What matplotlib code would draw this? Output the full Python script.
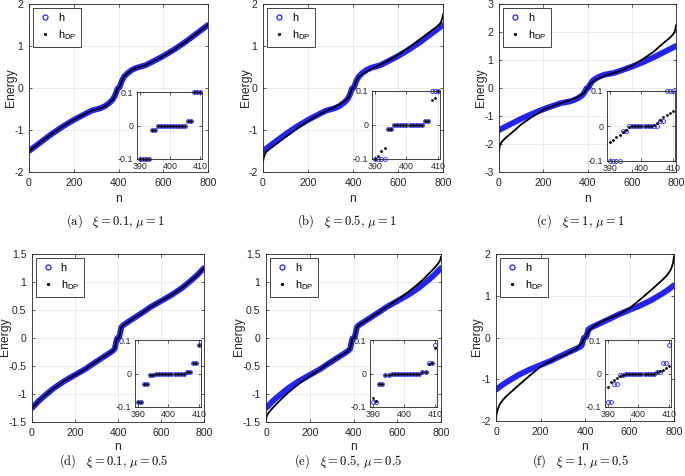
import matplotlib
matplotlib.use('Agg')
import matplotlib.pyplot as plt
from matplotlib.lines import Line2D

W, H = 685, 476
plt.rcParams['font.family'] = ['Liberation Sans', 'DejaVu Sans']
plt.rcParams['mathtext.fontset'] = 'custom'
plt.rcParams['mathtext.rm'] = 'Liberation Sans'
plt.rcParams['mathtext.it'] = 'Liberation Sans:italic'

# ---------------- data ----------------
n = [0, 3, 8, 15, 30, 50, 75, 100, 150, 200, 250, 280, 300, 320, 340, 360, 375, 385, 390, 395, 400,
     405, 410, 415, 425, 440, 460, 480, 500, 520, 550, 600, 650, 700, 725, 750, 770, 785, 792, 797, 800]

h_mu1 = [-1.50, -1.49, -1.47, -1.44, -1.38, -1.30, -1.20, -1.10, -0.92, -0.76, -0.62, -0.54, -0.51, -0.48, -0.43, -0.35, -0.27, -0.17, -0.10, -0.02, 0.00,
         0.02, 0.10, 0.17, 0.27, 0.35, 0.43, 0.48, 0.51, 0.54, 0.62, 0.76, 0.92, 1.10, 1.20, 1.30, 1.38, 1.44, 1.47, 1.49, 1.50]
h_mu05 = [-1.25, -1.24, -1.22, -1.19, -1.13, -1.06, -0.98, -0.90, -0.77, -0.66, -0.55, -0.47, -0.42, -0.37, -0.32, -0.27, -0.23, -0.19, -0.09, -0.01, 0.00,
          0.01, 0.09, 0.19, 0.23, 0.27, 0.32, 0.37, 0.42, 0.47, 0.55, 0.66, 0.77, 0.90, 0.98, 1.06, 1.13, 1.19, 1.22, 1.24, 1.25]

dp_a = [-1.50, -1.49, -1.47, -1.44, -1.38, -1.30, -1.20, -1.10, -0.92, -0.76, -0.62, -0.54, -0.51, -0.48, -0.43, -0.35, -0.27, -0.17, -0.10, -0.02, 0.00,
        0.02, 0.10, 0.17, 0.27, 0.35, 0.43, 0.48, 0.51, 0.54, 0.62, 0.76, 0.92, 1.10, 1.20, 1.30, 1.38, 1.44, 1.47, 1.49, 1.50]
dp_b = [-1.76, -1.66, -1.58, -1.52, -1.45, -1.37, -1.27, -1.17, -0.97, -0.79, -0.63, -0.55, -0.50, -0.45, -0.39, -0.32, -0.25, -0.18, -0.10, -0.02, 0.00,
        0.02, 0.10, 0.18, 0.25, 0.32, 0.39, 0.45, 0.50, 0.55, 0.63, 0.79, 0.97, 1.17, 1.27, 1.37, 1.45, 1.52, 1.58, 1.66, 1.76]
dp_c = [-2.25, -2.08, -1.98, -1.90, -1.78, -1.65, -1.48, -1.30, -1.03, -0.79, -0.62, -0.54, -0.49, -0.44, -0.38, -0.30, -0.23, -0.17, -0.12, -0.05, 0.00,
        0.05, 0.12, 0.17, 0.23, 0.30, 0.38, 0.44, 0.49, 0.54, 0.62, 0.79, 1.03, 1.30, 1.48, 1.65, 1.78, 1.90, 1.98, 2.08, 2.25]
dp_d = [-1.25, -1.24, -1.22, -1.19, -1.13, -1.06, -0.98, -0.90, -0.77, -0.66, -0.55, -0.47, -0.42, -0.37, -0.32, -0.27, -0.23, -0.19, -0.09, -0.01, 0.00,
        0.01, 0.09, 0.19, 0.23, 0.27, 0.32, 0.37, 0.42, 0.47, 0.55, 0.66, 0.77, 0.90, 0.98, 1.06, 1.13, 1.19, 1.22, 1.24, 1.25]
dp_e = [-1.45, -1.40, -1.36, -1.32, -1.25, -1.17, -1.07, -0.98, -0.82, -0.68, -0.55, -0.47, -0.42, -0.37, -0.32, -0.27, -0.23, -0.18, -0.10, -0.01, 0.00,
        0.01, 0.10, 0.18, 0.23, 0.27, 0.32, 0.37, 0.42, 0.47, 0.55, 0.68, 0.82, 0.98, 1.07, 1.17, 1.25, 1.32, 1.36, 1.40, 1.45]
dp_f = [-1.95, -1.82, -1.72, -1.62, -1.50, -1.39, -1.27, -1.15, -0.92, -0.70, -0.55, -0.48, -0.44, -0.39, -0.33, -0.27, -0.20, -0.14, -0.09, -0.04, 0.00,
        0.04, 0.09, 0.14, 0.20, 0.27, 0.33, 0.39, 0.44, 0.48, 0.55, 0.70, 0.92, 1.15, 1.27, 1.39, 1.50, 1.62, 1.72, 1.82, 1.95]

# inset data (n = 390 ... 410)
n_in = [390, 391, 392, 393, 394, 395, 396, 397, 398, 399, 400, 401, 402, 403, 404, 405, 406, 407, 408, 409, 410]
ih_mu1 = [-0.1, -0.1, -0.1, -0.1, -0.013, -0.013, 0, 0, 0, 0, 0, 0, 0, 0, 0, 0, 0.013, 0.013, 0.1, 0.1, 0.1]
ih_mu05 = [-0.085, -0.085, -0.031, -0.031, -0.004, -0.003, 0, 0, 0, 0, 0, 0, 0, 0, 0, 0, 0.003, 0.004, 0.03, 0.03, 0.085]
idp_a = [-0.1, -0.1, -0.1, -0.1, -0.013, -0.013, 0, 0, 0, 0, 0, 0, 0, 0, 0, 0, 0.013, 0.013, 0.1, 0.1, 0.1]
idp_b = [-0.1, -0.09, -0.077, -0.069, -0.013, -0.012, 0, 0, 0, 0, 0, 0, 0, 0, 0, 0, 0.012, 0.013, 0.073, 0.08, 0.1]
idp_c = [-0.047, -0.04, -0.032, -0.025, -0.018, -0.01, -0.004, 0, 0, 0, 0, 0, 0, 0, 0.004, 0.01, 0.018, 0.025, 0.032, 0.038, 0.044]
idp_d = [-0.085, -0.085, -0.031, -0.031, -0.004, -0.003, 0, 0, 0, 0, 0, 0, 0, 0, 0, 0, 0.003, 0.004, 0.03, 0.03, 0.085]
idp_e = [-0.072, -0.083, -0.031, -0.03, -0.004, -0.003, 0, 0, 0, 0, 0, 0, 0, 0, 0, 0, 0.003, 0.004, 0.028, 0.03, 0.075]
idp_f = [-0.039, -0.024, -0.019, -0.013, -0.007, -0.004, 0, 0, 0, 0, 0, 0, 0, 0, 0, 0, 0.004, 0.007, 0.011, 0.016, 0.021]

captions = [r'$\mathrm{(a)}\ \ \ \xi = 0.1,\, \mu = 1$',
            r'$\mathrm{(b)}\ \ \ \xi = 0.5,\, \mu = 1$',
            r'$\mathrm{(c)}\ \ \ \xi = 1,\, \mu = 1$',
            r'$\mathrm{(d)}\ \ \ \xi = 0.1,\, \mu = 0.5$',
            r'$\mathrm{(e)}\ \ \ \xi = 0.5,\, \mu = 0.5$',
            r'$\mathrm{(f)}\ \ \ \xi = 1,\, \mu = 0.5$']

yticks_list = [[-2, -1, 0, 1, 2], [-2, -1, 0, 1, 2], [-3, -2, -1, 0, 1, 2, 3],
               [-1.5, -1, -0.5, 0, 0.5, 1, 1.5], [-1.5, -1, -0.5, 0, 0.5, 1, 1.5], [-2, -1, 0, 1, 2]]
yticklabels_list = [['-2', '-1', '0', '1', '2'], ['-2', '-1', '0', '1', '2'], ['-3', '-2', '-1', '0', '1', '2', '3'],
                    ['-1.5', '-1', '-0.5', '0', '0.5', '1', '1.5'], ['-1.5', '-1', '-0.5', '0', '0.5', '1', '1.5'],
                    ['-2', '-1', '0', '1', '2']]
xticks = [0, 200, 400, 600, 800]
xticklabels = ['0', '200', '400', '600', '800']
in_yticks = [-0.1, 0, 0.1]
in_yticklabels = ['-0.1', '0', '0.1']
in_xticks = [390, 400, 410]
in_xticklabels = ['390', '400', '410']

h_list = [h_mu1, h_mu1, h_mu1, h_mu05, h_mu05, h_mu05]
dp_list = [dp_a, dp_b, dp_c, dp_d, dp_e, dp_f]
ih_list = [ih_mu1, ih_mu1, ih_mu1, ih_mu05, ih_mu05, ih_mu05]
idp_list = [idp_a, idp_b, idp_c, idp_d, idp_e, idp_f]

# ---------------- layout (pixel boxes) ----------------
main_boxes = [(29, 4, 208, 172), (263, 4, 443, 172), (499, 4, 676, 172),
              (32, 254, 204, 422), (266, 254, 441, 422), (496, 254, 674, 421)]
inset_boxes = [(137, 92, 202, 159), (372, 91, 440, 159), (607, 91, 675, 161),
               (135, 340, 201, 407), (370, 340, 437, 407), (605, 340, 671, 407)]
ylabel_pos = [(10.5, 88), (246, 88), (481, 88), (5, 337), (239, 337), (477.5, 337)]
caption_pos = [(115, 221), (347, 221), (580, 221), (114, 461), (348, 461), (580, 461)]
xlabel_y = [199, 199, 199, 447, 447, 447]

def fbox(b):
    x0, y0, x1, y1 = b
    return [x0 / W, 1 - y1 / H, (x1 - x0) / W, (y1 - y0) / H]

BLUE = '#2323ff'
AXC = '0.15'

fig = plt.figure(figsize=(W / 100, H / 100), dpi=100)

def style_axes(ax, fs, pad):
    for s in ax.spines.values():
        s.set_color(AXC)
        s.set_linewidth(0.6)
    ax.tick_params(direction='in', length=2.5, width=0.5, colors=AXC, labelsize=fs,
                   top=True, right=True, pad=pad)
    ax.grid(True, color='#e3e3e3', linewidth=0.5)
    ax.set_axisbelow(True)

for i in range(6):
    ax = fig.add_axes(fbox(main_boxes[i]))
    ax.plot(n, h_list[i], '-', color=BLUE, lw=4.2, solid_capstyle='round', solid_joinstyle='round')
    ax.plot(n, dp_list[i], '-', color='black', lw=1.3, solid_capstyle='round')
    ax.set_xlim(0, 800)
    yt = yticks_list[i]
    ax.set_ylim(yt[0], yt[-1])
    ax.set_xticks(xticks)
    ax.set_xticklabels(xticklabels)
    ax.set_yticks(yt)
    ax.set_yticklabels(yticklabels_list[i])
    style_axes(ax, 7.6, 4.0)
    handles = [Line2D([], [], ls='none', marker='o', ms=3.6, mfc='none', mec=BLUE, mew=0.9),
               Line2D([], [], ls='none', marker='o', ms=1.3, mfc='black', mec='black')]
    leg = ax.legend(handles, ['h', r'h$_{\mathrm{DP}}$'], loc='upper left',
                    bbox_to_anchor=(0.022, 0.975), fontsize=7.8, frameon=True, fancybox=False,
                    edgecolor=AXC, framealpha=1, borderpad=0.45, handlelength=1.4,
                    handletextpad=0.45, labelspacing=0.45, borderaxespad=0.0)
    leg.get_frame().set_linewidth(0.6)

    x0, y0, x1, y1 = main_boxes[i]
    fig.text(ylabel_pos[i][0] / W, 1 - ylabel_pos[i][1] / H, 'Energy', rotation=90,
             ha='center', va='center', fontsize=8.7, color=AXC)
    fig.text((x0 + x1) / 2 / W, 1 - xlabel_y[i] / H, 'n', ha='center', va='center',
             fontsize=8.7, color=AXC)
    fig.text(caption_pos[i][0] / W, 1 - caption_pos[i][1] / H, captions[i], ha='center',
             va='center', fontsize=9, math_fontfamily='cm')

    axi = fig.add_axes(fbox(inset_boxes[i]))
    axi.plot(n_in, ih_list[i], ls='none', marker='o', ms=2.8, mfc='none', mec=BLUE, mew=0.6,
             clip_on=False)
    axi.plot(n_in, idp_list[i], ls='none', marker='o', ms=1.0, mfc='black', mec='black',
             clip_on=False)
    axi.set_xlim(389, 410.7)
    axi.set_ylim(-0.1, 0.1)
    axi.set_xticks(in_xticks)
    axi.set_xticklabels(in_xticklabels)
    axi.set_yticks(in_yticks)
    axi.set_yticklabels(in_yticklabels)
    style_axes(axi, 6.4, 2.5)
    axi.tick_params(length=2)

fig.savefig('out.png', dpi=100)
